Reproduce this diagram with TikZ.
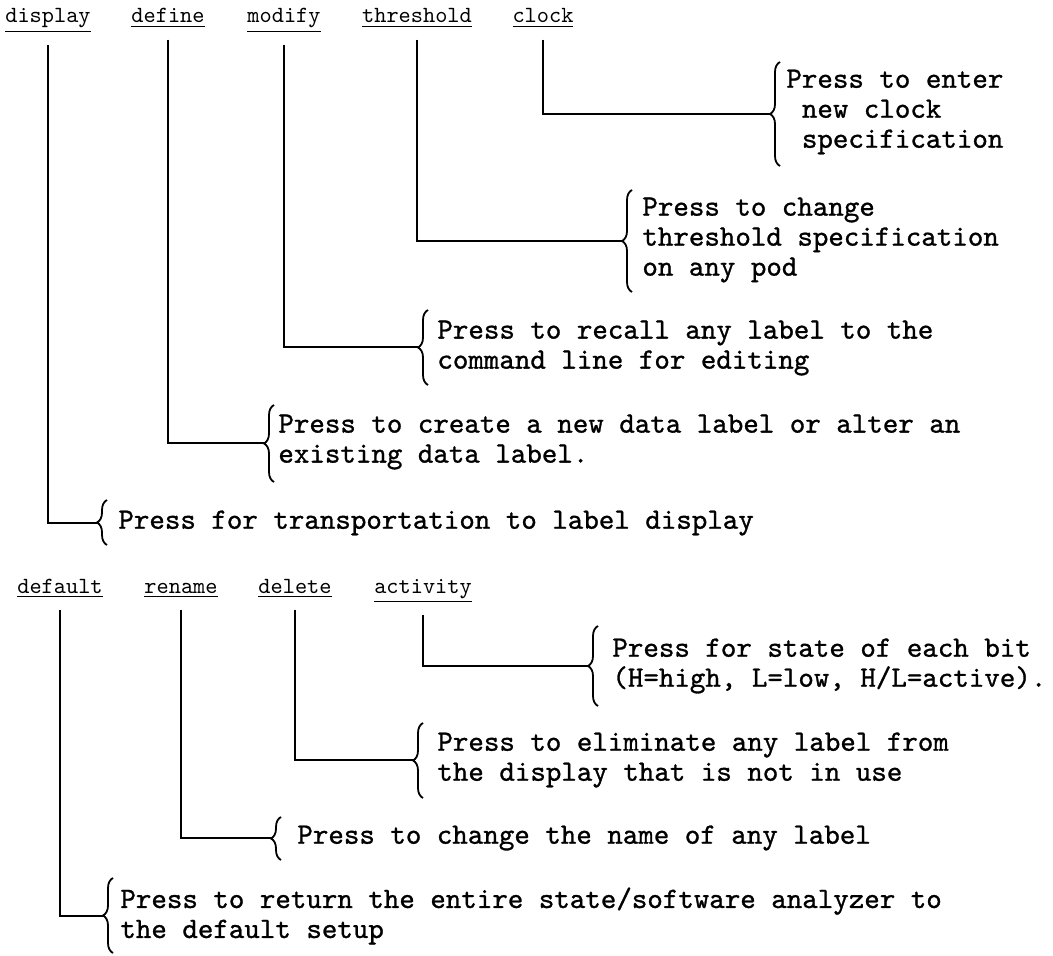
\documentclass[tikz,border=0pt]{standalone}
\usepackage{fontspec}
\usetikzlibrary{decorations.pathreplacing}
\newfontfamily\bodyfont[FakeBold=1]{lmmono10-regular.otf}
\newfontfamily\keyfont{lmmono10-regular.otf}
\tikzset{
  keylabel/.style={anchor=base, inner sep=0pt, font=\keyfont\fontsize{11.6}{13}\selectfont},
  desc/.style={anchor=west, inner sep=0pt, align=left, font=\bodyfont\fontsize{14.76}{15}\selectfont},
  conn/.style={line width=1.2pt},
  curly/.style={decorate, decoration={brace, amplitude=5pt}, line width=0.9pt},
}
\begin{document}
\begin{tikzpicture}[x=0.5pt,y=-0.5pt]
\useasboundingbox (0,0) rectangle (1053,956);
% ---- top group: key labels
\node[keylabel] (lDisplay) at (48,23) {\underline{display}};
\node[keylabel] (lDefine) at (168,23) {\underline{define}};
\node[keylabel] (lModify) at (284,23) {\underline{modify}};
\node[keylabel] (lThreshold) at (417,23) {\underline{threshold}};
\node[keylabel] (lClock) at (543,23) {\underline{clock}};
% descriptions
\node[desc] (tClock) at (786,112) {Press to enter\\\hphantom{n}new clock\\\hphantom{n}specification};
\node[desc] (tThreshold) at (642,240) {Press to change\\threshold specification\\on any pod};
\node[desc] (tModify) at (437,348) {Press to recall any label to the\\command line for editing};
\node[desc] (tDefine) at (278,442) {Press to create a new data label or alter an\\existing data label.};
\node[desc] (tDisplay) at (118,523) {Press for transportation to label display};
% braces and tips
\draw[curly] (780,166) -- (780,62);   \coordinate (bClock) at (770,114);
\draw[curly] (632,292) -- (632,190);  \coordinate (bThreshold) at (622,241);
\draw[curly] (428,385) -- (428,310);  \coordinate (bModify) at (418,347);
\draw[curly] (274,482) -- (274,405);  \coordinate (bDefine) at (264,443);
\draw[curly] (107,545) -- (107,500);  \coordinate (bDisplay) at (97,523);
% connectors
\draw[conn] ([yshift=-6pt]lClock.south) |- (bClock);
\draw[conn] ([yshift=-6pt]lThreshold.south) |- (bThreshold);
\draw[conn] ([yshift=-6pt]lModify.south) |- (bModify);
\draw[conn] ([yshift=-6pt]lDefine.south) |- (bDefine);
\draw[conn] ([yshift=-6pt]lDisplay.south) |- (bDisplay);
% ---- bottom group
\node[keylabel] (lDefault) at (60,593) {\underline{default}};
\node[keylabel] (lRename) at (181,593) {\underline{rename}};
\node[keylabel] (lDelete) at (295,593) {\underline{delete}};
\node[keylabel] (lActivity) at (423,593) {\underline{activity}};
\node[desc] (tActivity) at (612,666) {Press for state of each bit\\(H=high, L=low, H/L=active).};
\node[desc] (tDelete) at (437,760) {Press to eliminate any label from\\the display that is not in use};
\node[desc] (tRename) at (297,838) {Press to change the name of any label};
\node[desc] (tDefault) at (120,916) {Press to return the entire state/software analyzer to\\the default setup};
\draw[curly] (598,706) -- (598,626);  \coordinate (bActivity) at (588,666);
\draw[curly] (423,798) -- (423,723);  \coordinate (bDelete) at (413,760);
\draw[curly] (281,860) -- (281,817);  \coordinate (bRename) at (271,838);
\draw[curly] (113,953) -- (113,878);  \coordinate (bDefault) at (103,916);
\draw[conn] ([yshift=-6pt]lActivity.south) |- (bActivity);
\draw[conn] ([yshift=-6pt]lDelete.south) |- (bDelete);
\draw[conn] ([yshift=-6pt]lRename.south) |- (bRename);
\draw[conn] ([yshift=-6pt]lDefault.south) |- (bDefault);
\end{tikzpicture}
\end{document}
